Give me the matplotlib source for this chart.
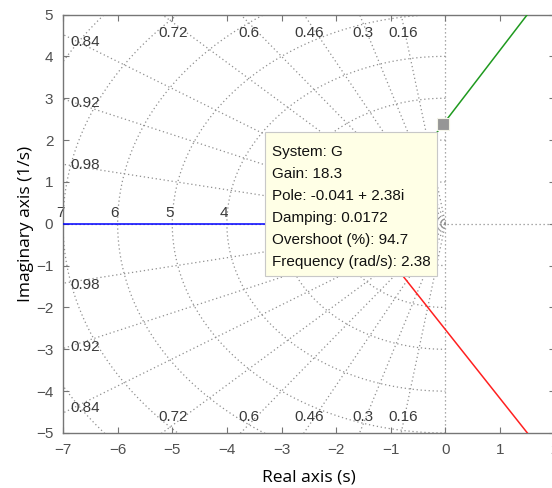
import numpy as np
import matplotlib
matplotlib.use("Agg")
import matplotlib.pyplot as plt
from matplotlib.patches import Rectangle
from matplotlib.transforms import IdentityTransform

# Root-locus branches (real, imaginary parts)
blue_re = [-7.6, -2.87]
blue_im = [0.0, 0.0]
green_re = [-0.70, -0.041, 1.50]
green_im = [1.25, 2.38, 5.00]
red_re = [-0.85, 1.50]
red_im = [-1.13, -5.00]

# Selected closed-loop pole and its gain
system_name = "G"
gain = 18.3
pole = complex(-0.041, 2.38)

# s-plane grid: damping ratios and natural frequencies
zeta_vals = [0.16, 0.3, 0.46, 0.6, 0.72, 0.84, 0.92, 0.98]
wn_vals = [1, 2, 3, 4, 5, 6, 7, 8]
wn_label_vals = [4, 5, 6, 7]

x_ticks = [-7, -6, -5, -4, -3, -2, -1, 0, 1, 2]
y_ticks = [-5, -4, -3, -2, -1, 0, 1, 2, 3, 4, 5]
xlim = (-7, 2)
ylim = (-5, 5)

tick_font = ["Liberation Sans", "DejaVu Sans"]
label_font = ["Open Sans", "DejaVu Sans"]

fig = plt.figure(figsize=(5.52, 4.88), dpi=100)
ax = fig.add_axes([63 / 552, 55 / 488, 491.7 / 552, 418.5 / 488])
ax.set_xlim(*xlim)
ax.set_ylim(*ylim)

grid_kw = dict(color="#8f8f8f", lw=0.9, ls=(0, (1, 2.2)), zorder=1)
txt_kw = dict(fontsize=11, color="#3a3a3a", family=tick_font, zorder=2)

# axes lines through the origin
ax.axhline(0, **grid_kw)
ax.axvline(0, **grid_kw)

# constant damping rays
for z in zeta_vals:
    wd = np.sqrt(1 - z * z)
    for sgn in (1, -1):
        ax.plot([0, -z * 20], [0, sgn * wd * 20], **grid_kw)
    slope = wd / z
    x_top = -4.8 / slope
    if x_top > -6.6:
        ax.text(x_top, 4.56, f"{z:g}", ha="center", va="center", **txt_kw)
        ax.text(x_top, -4.62, f"{z:g}", ha="center", va="center", **txt_kw)
    else:
        y_left = 6.6 * slope
        ax.text(-6.6, y_left + 0.07, f"{z:g}", ha="center", va="center", **txt_kw)
        ax.text(-6.6, -(y_left + 0.13), f"{z:g}", ha="center", va="center", **txt_kw)

# constant natural-frequency semicircles
th = np.linspace(np.pi / 2, 3 * np.pi / 2, 200)
for w in wn_vals:
    ax.plot(w * np.cos(th), w * np.sin(th), **grid_kw)
for w in wn_label_vals:
    ax.text(-w - 0.05, 0.26, f"{w:g}", ha="center", va="center",
            clip_on=False, **txt_kw)

# locus branches
ax.plot(blue_re, blue_im, color="#0000ff", lw=1.1, zorder=3)
ax.plot(green_re, green_im, color="#1f9a1f", lw=1.1, zorder=3)
ax.plot(red_re, red_im, color="#ff2020", lw=1.1, zorder=3)

# data tip on the selected pole
ax.plot([pole.real], [pole.imag], marker="s", ms=8, mfc="#969696",
        mec="#f4f4e8", mew=0.8, zorder=7, clip_on=False)
wn = abs(pole)
zeta = -pole.real / wn
overshoot = 100 * np.exp(-np.pi * zeta / np.sqrt(1 - zeta ** 2))
tip = "\n".join([
    f"System: {system_name}",
    f"Gain: {gain:g}",
    f"Pole: {pole.real:g} + {pole.imag:g}i",
    f"Damping: {zeta:.3g}",
    f"Overshoot (%): {overshoot:.3g}",
    f"Frequency (rad/s): {wn:.3g}",
])
tip_text = ax.annotate(tip, xy=(pole.real, pole.imag), xytext=(-9.1, -14.9),
                       textcoords="offset points", ha="right", va="top",
                       multialignment="left", fontsize=11, family=tick_font,
                       color="#111111", linespacing=1.727, zorder=6)

# axes styling
for s in ax.spines.values():
    s.set_color("#767676")
    s.set_linewidth(1.0)
ax.set_xticks(x_ticks)
ax.set_yticks(y_ticks)
ax.tick_params(direction="in", length=4, width=0.8, color="#767676",
               top=True, right=True, labelsize=11, labelcolor="#505050", pad=7)
for lab in ax.get_xticklabels() + ax.get_yticklabels():
    lab.set_family(tick_font)

ax.set_xlabel("Real axis (s)", fontsize=12.5, family=label_font, color="black")
ax.set_ylabel("Imaginary axis (1/s)", fontsize=12.5, family=label_font, color="black")
ax.xaxis.set_label_coords(0.5, -0.088)
ax.yaxis.set_label_coords(-0.059, 0.5)

# panel behind the data tip, sized from the rendered text
renderer = fig.canvas.get_renderer()
bb = tip_text.get_window_extent(renderer)
pad_l, pad_r, pad_t, pad_b = 6.5, 6.0, 12.7, 7.0
panel = Rectangle((bb.x0 - pad_l, bb.y0 - pad_b),
                  bb.width + pad_l + pad_r, bb.height + pad_t + pad_b,
                  transform=IdentityTransform(), fc="#ffffe6", ec="#c8c8c8",
                  lw=0.8, zorder=5, clip_on=False)
ax.add_artist(panel)

fig.savefig("out.png", dpi=100)
